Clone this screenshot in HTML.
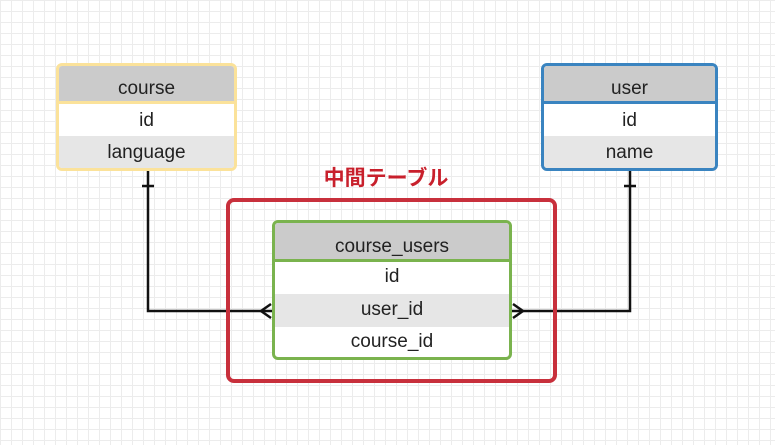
<!DOCTYPE html>
<html><head><meta charset="utf-8"><style>
body{margin:0;width:775px;height:445px;overflow:hidden;background:#fff;
background-image:linear-gradient(#ececec 1px,transparent 1px),linear-gradient(90deg,#ececec 1px,transparent 1px);
background-size:11px 11px;font-family:"Liberation Sans","Noto Sans CJK JP",sans-serif;position:relative}
.t{position:absolute;box-sizing:border-box;border:3px solid;border-radius:6px;overflow:hidden;background:#fff}
.r{text-align:center;color:#222;font-size:19px;box-sizing:border-box}
.h{background:#cbcbcb}
.g{background:#e6e6e6}
</style></head><body>
<svg style="position:absolute;left:0;top:0" width="775" height="445">
<g stroke="#111" stroke-width="2.5" fill="none">
<polyline points="148,170 148,311 273,311"/>
<polyline points="630,170 630,311 511,311"/>
<line x1="142" y1="186" x2="154" y2="186"/>
<line x1="624" y1="186" x2="636" y2="186"/>
<polyline points="271,304 261,311 271,318"/>
<polyline points="513,304 523,311 513,318"/>
</g>
<rect x="228" y="200" width="327" height="181" rx="6" fill="none" stroke="#c8303c" stroke-width="4"/>
<text x="386" y="185" text-anchor="middle" font-size="21" font-weight="bold" fill="#c8202c" font-family="Liberation Sans,Noto Sans CJK JP,sans-serif">中間テーブル</text>
</svg>
<div class="t" style="left:56px;top:63px;width:181px;height:108px;border-color:#fbe29a">
<div class="r h" style="height:38px;line-height:46px;border-bottom:3px solid #fbe29a">course</div>
<div class="r" style="height:32px;line-height:34px">id</div>
<div class="r g" style="height:32px;line-height:34px">language</div>
</div>
<div class="t" style="left:541px;top:63px;width:177px;height:108px;border-color:#3a84c0">
<div class="r h" style="height:38px;line-height:46px;border-bottom:3px solid #3a84c0">user</div>
<div class="r" style="height:32px;line-height:34px">id</div>
<div class="r g" style="height:32px;line-height:34px">name</div>
</div>
<div class="t" style="left:272px;top:220px;width:240px;height:140px;border-color:#7ab34e">
<div class="r h" style="height:39px;line-height:48px;border-bottom:3px solid #7ab34e">course_users</div>
<div class="r" style="height:32px;line-height:30px">id</div>
<div class="r g" style="height:33px;line-height:31px">user_id</div>
<div class="r" style="height:30px;line-height:30px">course_id</div>
</div>
</body></html>
